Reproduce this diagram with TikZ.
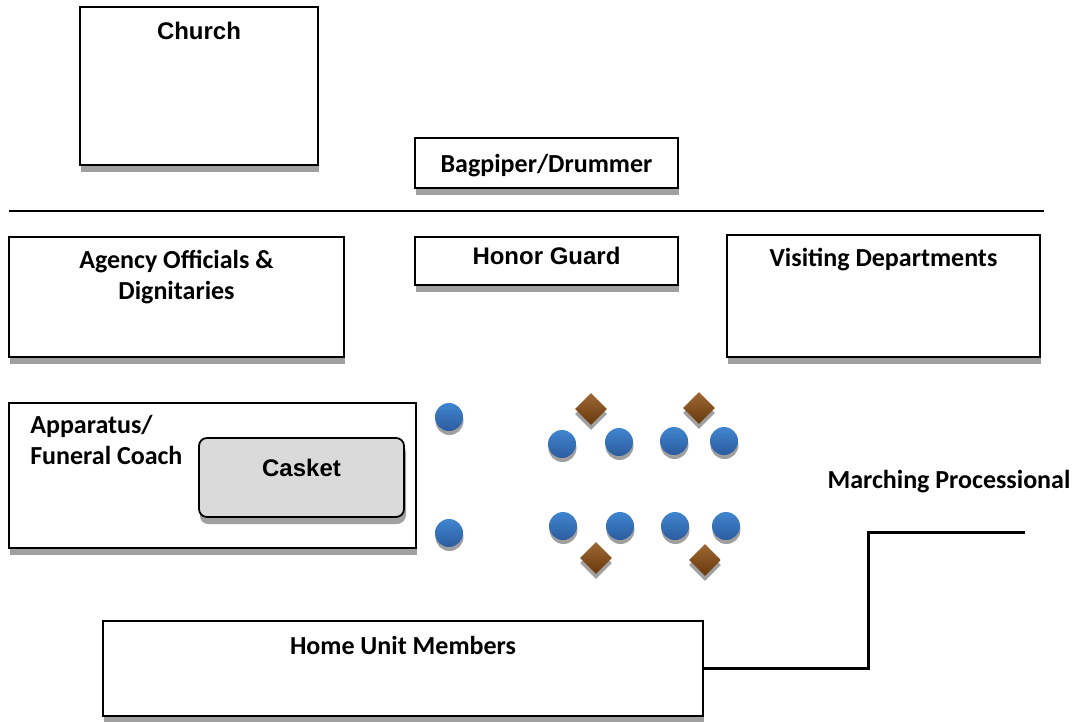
\documentclass[tikz,border=0pt]{standalone}
\usepackage{fontspec}
\setmainfont{Carlito}
\newfontfamily\arialfont{Liberation Sans}
\usetikzlibrary{positioning, shapes.geometric, shadows}
\definecolor{shadowgray}{RGB}{160,160,160}
\definecolor{casketgray}{RGB}{218,218,218}
\definecolor{blueTop}{RGB}{64,133,208}
\definecolor{blueBottom}{RGB}{44,92,158}
\definecolor{brownTop}{RGB}{158,104,52}
\definecolor{brownBottom}{RGB}{104,56,12}

\begin{document}
\begin{tikzpicture}[x=1pt, y=-1pt,
    box/.style={draw, line width=1.8pt, fill=white, inner sep=0pt,
      drop shadow={shadow xshift=1pt, shadow yshift=-7pt, fill=shadowgray, opacity=1}},
    tag/.style={font=\fontsize{26}{31}\selectfont\bfseries, inner sep=0pt},
    sign/.style={font=\arialfont\fontsize{24}{29}\selectfont\bfseries, inner sep=0pt},
    member/.style={circle, minimum size=28pt, inner sep=0pt, top color=blueTop, bottom color=blueBottom,
      drop shadow={shadow xshift=0.5pt, shadow yshift=-4pt, fill=shadowgray, opacity=1}},
    flag/.style={diamond, aspect=1, minimum size=32pt, inner sep=0pt, top color=brownTop, bottom color=brownBottom,
      drop shadow={shadow xshift=0pt, shadow yshift=-5pt, fill=shadowgray, opacity=1}},
    march/.style={line width=3pt}]
        \useasboundingbox (0,0) rectangle (1080,721);

        % Church
        \node[box, minimum width=238pt, minimum height=158pt] (church) at (199,86) {};
        \node[sign, anchor=base] (churchText) at ([yshift=-33pt]church.north) {Church};

        % Bagpiper/Drummer
        \node[box, minimum width=263pt, minimum height=50pt] (bagpiper) at (546.5,163) {};
        \node[tag, anchor=base] (bagpiperText) at ([yshift=-9pt]bagpiper.center) {Bagpiper/Drummer};

        % Trennlinie
        \coordinate (divL) at (9,211);
        \coordinate (divR) at (1044,211);
        \draw[line width=1.8pt] (divL) -- (divR);

        % Honor Guard
        \node[box, minimum width=263pt, minimum height=48pt] (honor) at (546.5,261) {};
        \node[sign, anchor=base] (honorText) at ([yshift=-3pt]honor.center) {Honor Guard};

        % Agency Officials
        \node[box, minimum width=335pt, minimum height=120pt] (agency) at (176.5,297) {};
        \node[tag, align=center, anchor=north] (agencyText) at ([yshift=-14pt]agency.north) {Agency Officials \&\\Dignitaries};

        % Visiting Departments
        \node[box, minimum width=313pt, minimum height=122pt] (visiting) at (883.5,296) {};
        \node[tag, anchor=base] (visitingText) at ([yshift=-32pt]visiting.north) {Visiting Departments};

        % Apparatus + Casket
        \node[box, minimum width=407pt, minimum height=145pt] (apparatus) at (212.5,475.5) {};
        \node[tag, align=left, anchor=north west] (apparatusText) at ([xshift=22pt, yshift=-13pt]apparatus.north west) {Apparatus/\\Funeral Coach};
        \node[box, fill=casketgray, rounded corners=8pt, minimum width=205pt, minimum height=79pt,
              drop shadow={shadow xshift=2pt, shadow yshift=-6pt, fill=shadowgray, opacity=1}] (casket) at (301.5,477.5) {};
        \node[sign, anchor=base] (casketText) at ([yshift=1.5pt]casket.center) {Casket};

        % Ehrenformation
        \foreach \px/\py [count=\i] in {449/417, 449/533, 562/444, 619/442, 674/441, 724/441,
                                        563/526, 620/526, 675/526, 726/526}
            \node[member] (member\i) at (\px,\py) {};
        \foreach \px/\py [count=\i] in {591/409, 699/408, 596/558, 705/560}
            \node[flag] (flag\i) at (\px,\py) {};

        % Home Unit Members
        \node[box, minimum width=600pt, minimum height=95pt] (home) at (403,668.5) {};
        \node[tag, anchor=base] (homeText) at ([yshift=-34pt]home.north) {Home Unit Members};

        % Marching Processional
        \node[tag, anchor=base] (marching) at (949,488) {Marching Processional};
        \coordinate (stepUp) at (868,532);
        \coordinate (procEnd) at (1025,532);
        \draw[march] (home.east) -| (stepUp) -- (procEnd);
    \end{tikzpicture}
\end{document}
